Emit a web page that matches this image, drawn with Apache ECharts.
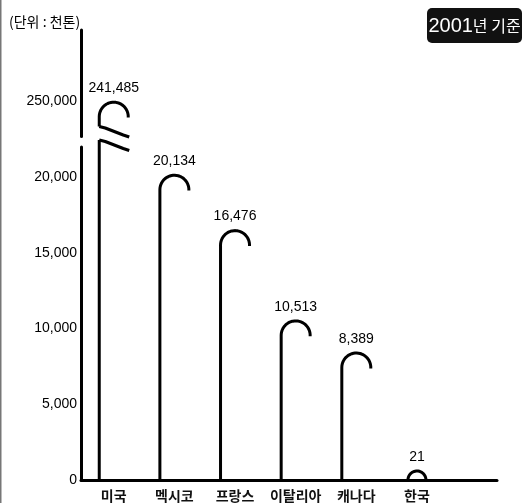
<!DOCTYPE html>
<html><head><meta charset="utf-8">
<script src="https://cdn.jsdelivr.net/npm/echarts@6/dist/echarts.min.js"></script>
<style>html,body{margin:0;padding:0;background:#fff}#c{width:525px;height:503px}</style>
</head><body><div id="c"></div>
<script>
// ---- data ----
const categories = ['미국', '멕시코', '프랑스', '이탈리아', '캐나다', '한국'];
const values = [241485, 20134, 16476, 10513, 8389, 21];
const lowerTicks = [0, 5000, 10000, 15000, 20000];
const upperTicks = [250000];
const lowerMax = 22000;
const upperMax = 750000;
const unitLabel = '(단위 : 천톤)';
const badgeLabel = '2001년 기준';

// ---- style ----
const NUM_FONT = "'Liberation Sans', Arial, sans-serif";
const NARROW_FONT = "'Liberation Sans Narrow', 'Liberation Sans', sans-serif";
const KR_FONT = "'Noto Sans CJK KR', sans-serif";
const R = 14.5, MIN_H = 9, LW = 3;
const fmt = v => Number(v).toLocaleString('en-US');

function hookPoints(cx, cy, r, startY) {
  const pts = [[cx - r, startY]];
  const N = 28;
  for (let k = 0; k <= N; k++) {
    const t = Math.PI + (Math.PI + 0.06) * k / N;
    pts.push([cx + r * Math.cos(t), cy + r * Math.sin(t)]);
  }
  return pts;
}
function stroke(points, w) {
  return { type: 'polyline', shape: { points }, style: { stroke: '#000', lineWidth: w || LW, fill: null, lineJoin: 'round', lineCap: 'butt' } };
}
function breakMark(xL, y0) {
  return stroke([[xL, y0], [xL + 6, y0 + 1.5], [xL + 15, y0 + 5], [xL + 24, y0 + 8.5], [xL + 30, y0 + 10.5]], 3.2);
}
function valueText(cx, y, v) {
  return { type: 'text', style: { text: fmt(v), x: cx, y: y, align: 'center', verticalAlign: 'middle', font: '14px ' + NUM_FONT, fill: '#000' } };
}

function renderLower(params, api) {
  const x = api.value(0), v = api.value(1);
  const p = api.coord([x, Math.min(v, lowerMax)]);
  const cx = p[0];
  const base = api.coord([x, 0])[1];
  const cs = params.coordSys;
  if (v > lowerMax) {
    const T = cs.y;
    const xL = cx - R;
    return { type: 'group', children: [stroke([[xL, base], [xL, T - 7]]), breakMark(xL, T - 7)] };
  }
  const top = Math.min(p[1], base - MIN_H);
  const r = Math.min(R, base - top);
  const cy = top + r;
  return { type: 'group', children: [stroke(hookPoints(cx, cy, r, base)), valueText(cx, top - 14, v)] };
}
function renderUpper(params, api) {
  const x = api.value(0), v = api.value(1);
  const p = api.coord([x, v]);
  const cx = p[0], top = p[1];
  const cs = params.coordSys;
  const B = cs.y + cs.height;
  const cy = top + R;
  const xL = cx - R;
  return { type: 'group', children: [stroke(hookPoints(cx, cy, R, B - 10)), breakMark(xL, B - 10), valueText(cx, top - 14, v)] };
}

const lowerData = values.map((v, i) => [i, v]);
const upperData = values.map((v, i) => [i, v]).filter(d => d[1] > lowerMax);

const xMin = -0.54, xMax = 6.32;
const chart = echarts.init(document.getElementById('c'));
chart.setOption({
  backgroundColor: '#fff',
  animation: false,
  grid: [
    { left: 81, right: 28, top: 147, bottom: 23 },
    { left: 81, right: 28, top: 30, height: 106.5 }
  ],
  xAxis: [
    {
      type: 'value', gridIndex: 0, min: xMin, max: xMax,
      axisLine: { show: true, onZero: false, lineStyle: { color: '#000', width: 3 } },
      axisTick: { show: false }, splitLine: { show: false },
      axisLabel: { customValues: categories.map((_, i) => i), formatter: v => categories[v] || '', fontFamily: KR_FONT, fontSize: 14, fontWeight: 'bold', color: '#111', margin: 9 }
    },
    { type: 'value', gridIndex: 1, min: xMin, max: xMax, show: false }
  ],
  yAxis: [
    {
      type: 'value', gridIndex: 0, min: 0, max: lowerMax,
      axisLine: { show: true, onZero: false, lineStyle: { color: '#000', width: 3 } },
      axisTick: { show: false }, splitLine: { show: false },
      axisLabel: { customValues: lowerTicks, formatter: v => fmt(v), fontFamily: NUM_FONT, fontSize: 14, color: '#000', margin: 4 }
    },
    {
      type: 'value', gridIndex: 1, min: 0, max: upperMax,
      axisLine: { show: true, onZero: false, lineStyle: { color: '#000', width: 3 } },
      axisTick: { show: false }, splitLine: { show: false },
      axisLabel: { customValues: upperTicks, formatter: v => fmt(v), fontFamily: NUM_FONT, fontSize: 14, color: '#000', margin: 4 }
    }
  ],
  series: [
    { type: 'custom', xAxisIndex: 0, yAxisIndex: 0, clip: false, renderItem: renderLower, data: lowerData, z: 5 },
    { type: 'custom', xAxisIndex: 1, yAxisIndex: 1, clip: false, renderItem: renderUpper, data: upperData, z: 5 }
  ],
  graphic: [
    { type: 'rect', shape: { x: 0, y: 0, width: 1.5, height: 503 }, style: { fill: '#777' }, silent: true },
    { type: 'text', left: 9, top: 15, style: { text: unitLabel, font: '14px ' + KR_FONT, fill: '#000' } },
    {
      type: 'group', left: 427, top: 8,
      children: [
        { type: 'rect', shape: { x: 0, y: 0, width: 95, height: 35, r: 5 }, style: { fill: '#111' } },
        {
          type: 'text', x: 47.5, y: 18,
          style: {
            text: '{a|2001}{b|년 기준}', align: 'center', verticalAlign: 'middle', fill: '#fff',
            rich: {
              a: { fontFamily: NARROW_FONT, fontSize: 20, fill: '#fff', color: '#fff' },
              b: { fontFamily: KR_FONT, fontSize: 16, fill: '#fff', color: '#fff' }
            }
          }
        }
      ]
    }
  ]
});
</script>
</body></html>
